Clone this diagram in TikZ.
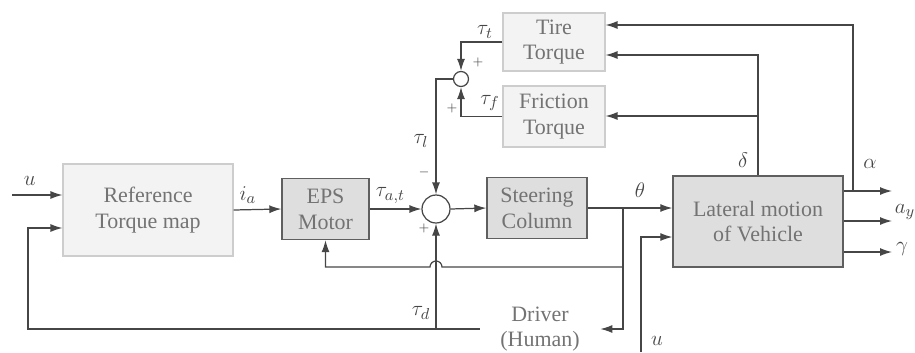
\documentclass[tikz,border=0pt]{standalone}
\usepackage{fontspec}
\setmainfont{Liberation Serif}
\usepackage{amsmath}
\usetikzlibrary{arrows.meta, positioning}
\definecolor{lightbox}{RGB}{243,243,243}
\definecolor{lightedge}{RGB}{205,205,205}
\definecolor{darkbox}{RGB}{222,222,222}
\definecolor{darkedge}{RGB}{95,95,95}
\definecolor{textgray}{RGB}{115,115,115}
\definecolor{linegray}{RGB}{70,70,70}

\begin{document}
\begin{tikzpicture}[
        x=0.02cm, y=-0.02cm,
        lightblock/.style={rectangle, draw=lightedge, fill=lightbox, text=textgray, align=center, line width=0.6pt},
        darkblock/.style={rectangle, draw=darkedge, fill=darkbox, text=textgray, align=center, line width=0.8pt},
        sumnode/.style={circle, draw=linegray, fill=white, line width=0.7pt, inner sep=0pt},
        sig/.style={text=linegray, inner sep=1pt},
        wire/.style={draw=linegray, line width=0.7pt},
        >={Latex[length=2.4mm, width=1.6mm]},
        font=\fontsize{12.5}{14.7}\selectfont
    ]
    \useasboundingbox (0,0) rectangle (915,352);

    % Blocks
    \node[lightblock, minimum width=3.4cm, minimum height=1.84cm] (ref) at (148,210) {Reference\\Torque map};
    \node[darkblock, minimum width=1.74cm, minimum height=1.22cm] (eps) at (325.5,209) {EPS\\Motor};
    \node[sumnode, minimum size=0.56cm] (sum) at (436,209) {};
    \node[darkblock, minimum width=2.0cm, minimum height=1.22cm] (steer) at (537,208) {Steering\\Column};
    \node[darkblock, minimum width=3.4cm, minimum height=1.82cm] (lat) at (758,221.5) {Lateral motion\\of Vehicle};
    \node[lightblock, minimum width=2.04cm, minimum height=1.16cm] (tire) at (554,42) {Tire\\Torque};
    \node[lightblock, minimum width=2.04cm, minimum height=1.22cm] (fric) at (554,116.5) {Friction\\Torque};
    \node[sumnode, minimum size=0.3cm] (sum2) at (461,79) {};
    \node[text=textgray, align=center, minimum width=2.4cm, minimum height=0.9cm] (driver) at (540,329) {Driver\\(Human)};

    % Branch points and free ends
    \coordinate (uin) at (12,195);
    \coordinate (fbk) at (28,329);
    \coordinate (td) at (436,329);
    \coordinate (th) at (623,208);
    \coordinate (epsfb) at (623,267);
    \coordinate (hopr) at (442,267);
    \coordinate (uv) at (641,352);
    \coordinate (alb) at (853,191);
    \coordinate (alout) at (892,191);
    \coordinate (ayout) at (892,221);
    \coordinate (gaout) at (892,252);
    \coordinate (dlb) at (758,116);

    % Forward path
    \draw[wire, ->] (uin) -- (uin -| ref.west) node[sig, pos=0.35, above=4pt] {$u$};
    \draw[wire, ->] (ref.east) -- (eps.west) node[sig, pos=0.3, above=2pt] {$i_a$};
    \draw[wire, ->] (eps.east) -- (sum.west) node[sig, pos=0.4, above=2pt] {$\tau_{a,t}$};
    \draw[wire, ->] (sum.east) -- (steer.west);
    \draw[wire] (steer.east) -- (th);
    \draw[wire, ->] (th) -- (th -| lat.west);
    \node[sig] (thlab) at (640,190) {$\theta$};
    \draw[wire, ->] (uv) |- (lat.west |- 0,237);
    \node[sig] (ulab) at (657,341) {$u$};

    % Driver loop
    \draw[wire, ->] (th) |- (driver.east);
    \draw[wire, ->] (driver.west) -- (fbk) |- (ref.west |- 0,228);
    \draw[wire, ->] (td) -- (sum.south);
    \node[sig] (tdlab) at (421,313) {$\tau_d$};
    \node[sig, font=\scriptsize] (pluslow) at (424,228) {$+$};

    % Motor feedback with hop over tau_d
    \draw[wire, ->] (epsfb) -- (hopr) arc[start angle=0, end angle=180, radius=0.12cm] -| (eps.south);

    % Tire and friction torque
    \draw[wire, ->] (tire.west) -| (sum2.north);
    \draw[wire, ->] (fric.west) -| (sum2.south);
    \draw[wire, ->] (sum2.west) -| (sum.north);
    \node[sig] (ttlab) at (485,32) {$\tau_t$};
    \node[sig] (tflab) at (490,103) {$\tau_f$};
    \node[sig] (tllab) at (421,141) {$\tau_l$};
    \node[sig, font=\scriptsize] (plusa) at (478,62) {$+$};
    \node[sig, font=\scriptsize] (plusb) at (452,108) {$+$};
    \node[sig, font=\scriptsize] (minus) at (424,172) {$-$};

    % Vehicle outputs
    \draw[wire, ->] (lat.east |- alout) -- (alout);
    \draw[wire, ->] (lat.east |- ayout) -- (ayout);
    \draw[wire, ->] (lat.east |- gaout) -- (gaout);
    \node[sig] (allab) at (870,164) {$\alpha$};
    \node[sig] (aylab) at (905,212) {$a_y$};
    \node[sig] (galab) at (902,249) {$\gamma$};
    \draw[wire, ->] (alb) |- (tire.east |- 0,25);
    \draw[wire, ->] (lat.north) |- (tire.east |- 0,55);
    \draw[wire, ->] (dlb) -- (dlb -| fric.east);
    \node[sig] (dllab) at (743,160) {$\delta$};
\end{tikzpicture}
\end{document}
